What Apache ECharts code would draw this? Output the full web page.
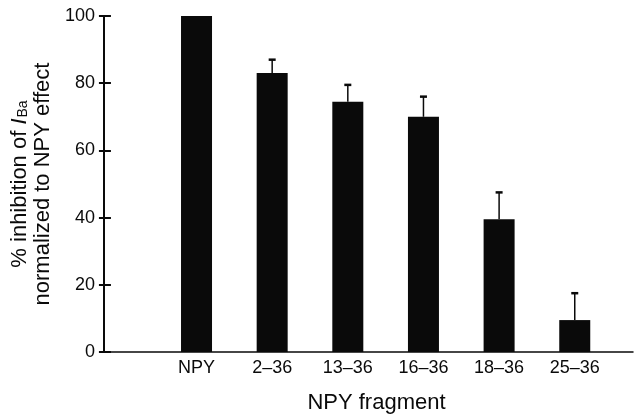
<!DOCTYPE html>
<html>
<head>
<meta charset="utf-8">
<script src="https://cdn.jsdelivr.net/npm/echarts@6/dist/echarts.min.js"></script>
<style>
html,body{margin:0;padding:0;background:#fff;}
#chart{width:641px;height:419px;}
</style>
</head>
<body>
<div id="chart"></div>
<script>
// Data
const categories = ['NPY', '2–36', '13–36', '16–36', '18–36', '25–36'];
const meanInhibition = [100, 83, 74.5, 70, 39.5, 9.5];
const semInhibition = [0, 4, 5, 6, 8, 8];
const yTicks = [0, 20, 40, 60, 80, 100];

const FONT = '"Liberation Sans", Arial, Helvetica, sans-serif';
const INK = '#0a0a0a';

const barData = categories.map((c, i) => [i, meanInhibition[i]]);
const errData = categories.map((c, i) => [i, meanInhibition[i], meanInhibition[i] + semInhibition[i]]).filter(d => d[2] > d[1]);

const chart = echarts.init(document.getElementById('chart'));
chart.setOption({
  animation: false,
  backgroundColor: '#fff',
  grid: { left: 97, right: 8, top: 16, bottom: 63, containLabel: false },
  xAxis: {
    type: 'value',
    min: -1.224,
    max: 5.77,
    splitLine: { show: false },
    axisLine: { show: true, onZero: false, lineStyle: { color: INK, width: 1.5 } },
    axisTick: { show: false },
    axisLabel: {
      customValues: categories.map((c, i) => i),
      formatter: v => categories[Math.round(v)] || '',
      color: INK, fontFamily: FONT, fontSize: 18, margin: 7
    },
    name: 'NPY fragment',
    nameLocation: 'middle',
    nameGap: 40,
    nameTextStyle: { color: INK, fontFamily: FONT, fontSize: 22, padding: [0, 0, 0, 16] }
  },
  yAxis: [{
    type: 'value',
    min: 0, max: 100, interval: 20,
    splitLine: { show: false },
    axisLine: { show: true, onZero: false, lineStyle: { color: INK, width: 2 } },
    axisTick: { show: true, inside: true, length: 7, lineStyle: { color: INK, width: 2 } },
    axisLabel: { color: INK, fontFamily: FONT, fontSize: 18, margin: 9,
      formatter: v => yTicks.includes(v) ? String(v) : '' },
    name: '{a|% inhibition of }{i|I}{s|Ba}\n{a|normalized to NPY effect}',
    nameLocation: 'middle',
    nameRotate: 90,
    nameGap: 35,
    nameTextStyle: {
      color: INK, fontFamily: FONT, fontSize: 22, lineHeight: 23,
      rich: {
        a: { fontFamily: FONT, fontSize: 22, color: INK, lineHeight: 23 },
        i: { fontFamily: FONT, fontSize: 22, color: INK, fontStyle: 'italic', lineHeight: 23 },
        s: { fontFamily: FONT, fontSize: 14, color: INK, lineHeight: 23, padding: [8, 0, 0, 1] }
      }
    }
  }, {
    type: 'value',
    position: 'left',
    min: 0, max: 100, interval: 20,
    splitLine: { show: false },
    axisLine: { show: false, onZero: false },
    axisTick: { show: true, inside: false, length: 5, lineStyle: { color: INK, width: 2 } },
    axisLabel: { show: false }
  }],
  series: [{
    type: 'bar',
    data: barData,
    barWidth: 31,
    itemStyle: { color: INK },
    z: 2
  }, {
    type: 'custom',
    data: errData,
    z: 3,
    renderItem: (params, api) => {
      const x = api.value(0);
      const base = api.coord([x, api.value(1)]);
      const top = api.coord([x, api.value(2)]);
      return {
        type: 'group',
        children: [{
          type: 'line',
          shape: { x1: base[0], y1: base[1], x2: top[0], y2: top[1] },
          style: { stroke: INK, lineWidth: 1.5 }
        }, {
          type: 'line',
          shape: { x1: top[0] - 3.5, y1: top[1], x2: top[0] + 3.5, y2: top[1] },
          style: { stroke: INK, lineWidth: 2.5 }
        }]
      };
    }
  }]
});
</script>
</body>
</html>
